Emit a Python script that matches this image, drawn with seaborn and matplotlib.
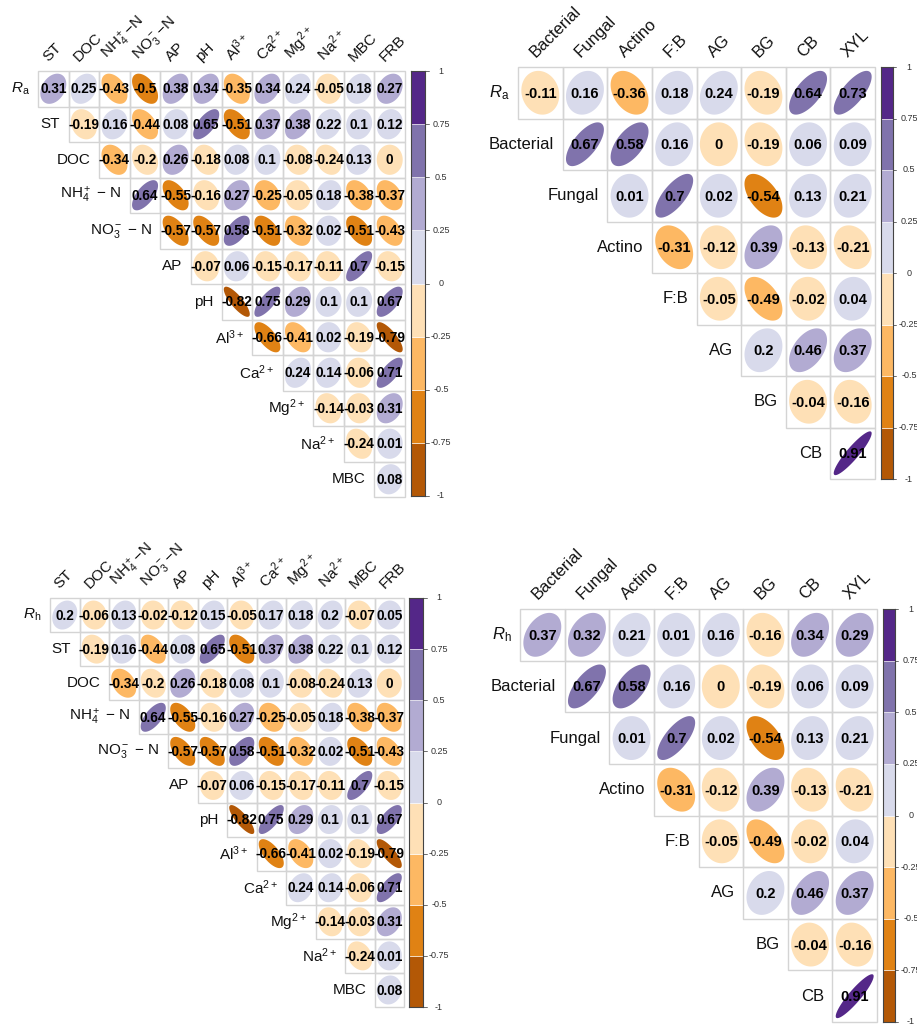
import matplotlib
matplotlib.use("Agg")
import matplotlib.pyplot as plt
from matplotlib.colors import ListedColormap
from matplotlib.patches import Rectangle
import seaborn as sns
import numpy as np

# ---- data -------------------------------------------------------------
soil_cols = ["ST", "DOC", r"NH$_4^+$$-$N", r"NO$_3^-$$-$N", "AP", "pH",
             r"Al$^{3+}$", r"Ca$^{2+}$", r"Mg$^{2+}$", r"Na$^{2+}$", "MBC", "FRB"]
soil_rows = ["ST", "DOC", r"NH$_4^+$ $-$ N", r"NO$_3^-$ $-$ N", "AP", "pH",
             r"Al$^{3+}$", r"Ca$^{2+}$", r"Mg$^{2+}$", r"Na$^{2+}$", "MBC"]

enz_cols = ["Bacterial", "Fungal", "Actino", "F:B", "AG", "BG", "CB", "XYL"]
enz_rows = ["Bacterial", "Fungal", "Actino", "F:B", "AG", "BG", "CB"]

ra_soil = [0.31, 0.25, -0.43, -0.5, 0.38, 0.34, -0.35, 0.34, 0.24, -0.05, 0.18, 0.27]
rh_soil = [0.2, -0.06, 0.13, -0.02, -0.12, 0.15, -0.05, 0.17, 0.18, 0.2, -0.07, 0.05]

# upper triangle of the soil correlation matrix (row by row)
soil_upper = [
    [-0.19, 0.16, -0.44, 0.08, 0.65, -0.51, 0.37, 0.38, 0.22, 0.1, 0.12],
    [-0.34, -0.2, 0.26, -0.18, 0.08, 0.1, -0.08, -0.24, 0.13, 0],
    [0.64, -0.55, -0.16, 0.27, -0.25, -0.05, 0.18, -0.38, -0.37],
    [-0.57, -0.57, 0.58, -0.51, -0.32, 0.02, -0.51, -0.43],
    [-0.07, 0.06, -0.15, -0.17, -0.11, 0.7, -0.15],
    [-0.82, 0.75, 0.29, 0.1, 0.1, 0.67],
    [-0.66, -0.41, 0.02, -0.19, -0.79],
    [0.24, 0.14, -0.06, 0.71],
    [-0.14, -0.03, 0.31],
    [-0.24, 0.01],
    [0.08],
]

ra_enz = [-0.11, 0.16, -0.36, 0.18, 0.24, -0.19, 0.64, 0.73]
rh_enz = [0.37, 0.32, 0.21, 0.01, 0.16, -0.16, 0.34, 0.29]

enz_upper = [
    [0.67, 0.58, 0.16, 0, -0.19, 0.06, 0.09],
    [0.01, 0.7, 0.02, -0.54, 0.13, 0.21],
    [-0.31, -0.12, 0.39, -0.13, -0.21],
    [-0.05, -0.49, -0.02, 0.04],
    [0.2, 0.46, 0.37],
    [-0.04, -0.16],
    [0.91],
]

cbar_bounds = [-1, -0.75, -0.5, -0.25, 0, 0.25, 0.5, 0.75, 1]
palette = ["#b35806", "#e08214", "#fdb863", "#fee0b6",
           "#d8daeb", "#b2abd2", "#8073ac", "#542788"]

# ---- style ------------------------------------------------------------
sns.set_theme(style="white")
plt.rcParams["font.family"] = ["Liberation Sans", "DejaVu Sans"]
plt.rcParams["mathtext.fontset"] = "custom"
plt.rcParams["mathtext.rm"] = "Liberation Sans"
plt.rcParams["mathtext.it"] = "Liberation Sans:italic"
plt.rcParams["mathtext.bf"] = "Liberation Sans:bold"

W, H = 917, 1024


def box(x0, y0, x1, y1):
    return [x0 / W, 1 - y1 / H, (x1 - x0) / W, (y1 - y0) / H]


def bin_color(r):
    idx = int(np.ceil(round((r + 1) / 0.25, 9))) - 1
    return palette[min(max(idx, 0), 7)]


def build_matrix(first_row, upper):
    n = len(first_row)
    mat = np.full((n, n), np.nan)
    mat[0, :] = first_row
    for i, vals in enumerate(upper, start=1):
        mat[i, i:] = vals
    return mat


def draw_panel(fig, grid_box, cbar_box, mat, row_labels, col_labels,
               num_size, lab_size):
    ax = fig.add_axes(box(*grid_box))
    n = mat.shape[0]
    mask = np.isnan(mat)
    sns.heatmap(np.zeros_like(mat), mask=mask, cmap=ListedColormap(["white"]),
                cbar=False, linewidths=0, xticklabels=False, yticklabels=False,
                ax=ax)
    ax.axis("off")

    k = np.linspace(0, 2 * np.pi, 120)
    for i in range(n):
        for j in range(i, n):
            r = mat[i, j]
            ax.add_patch(Rectangle((j, i), 1, 1, facecolor="none",
                                   edgecolor="#d4d4d4", lw=1, zorder=2,
                                   clip_on=False))
            d = np.arccos(r) / 2
            ex = 0.85 * np.cos(k + d) / 2
            ey = 0.85 * np.cos(k - d) / 2
            ax.fill(j + 0.5 + ex, i + 0.5 - ey, color=bin_color(r), lw=0, zorder=3)
            ax.text(j + 0.5, i + 0.52, f"{r:g}", ha="center", va="center",
                    fontsize=num_size, fontweight="bold", color="black", zorder=4)

    for i, lab in enumerate(row_labels):
        ax.annotate(lab, xy=(i, i + 0.5), xytext=(-6, 0), textcoords="offset points",
                    ha="right", va="center", fontsize=lab_size, color="#111111",
                    annotation_clip=False)
    for j, lab in enumerate(col_labels):
        ax.annotate(lab, xy=(j + 0.5, 0), xytext=(-2, 5), textcoords="offset points",
                    ha="left", va="bottom", rotation=45, rotation_mode="anchor",
                    fontsize=lab_size, color="#111111", annotation_clip=False)

    cax = fig.add_axes(box(*cbar_box))
    cax.bar(0.5, np.diff(cbar_bounds), bottom=cbar_bounds[:-1], width=1,
            color=palette, edgecolor="white", linewidth=0.4)
    cax.set_xlim(0, 1)
    cax.set_ylim(-1, 1)
    cax.set_xticks([])
    cax.set_yticks([])
    for s in cax.spines.values():
        s.set_color("#444444")
        s.set_linewidth(0.8)
    for b in cbar_bounds:
        cax.plot([1, 1.25], [b, b], color="#555555", lw=0.6, clip_on=False)
        cax.annotate(f"{b:g}", xy=(1, b), xycoords=("axes fraction", "data"),
                     xytext=(11.5, 0), textcoords="offset points", ha="center",
                     va="center", fontsize=6.5, color="#333333",
                     annotation_clip=False)
    return ax


fig = plt.figure(figsize=(W / 100, H / 100), dpi=100)

ra_label = r"$R_{\mathrm{a}}$"
rh_label = r"$R_{\mathrm{h}}$"

draw_panel(fig, (38, 71, 405, 497), (411, 71, 425, 496),
           build_matrix(ra_soil, soil_upper), [ra_label] + soil_rows, soil_cols,
           9.8, 11)
draw_panel(fig, (518, 67, 875, 479), (881, 67, 893, 479),
           build_matrix(ra_enz, enz_upper), [ra_label] + enz_rows, enz_cols,
           10.5, 12)
draw_panel(fig, (50, 598, 404, 1007), (409, 598, 423, 1007),
           build_matrix(rh_soil, soil_upper), [rh_label] + soil_rows, soil_cols,
           9.8, 11)
draw_panel(fig, (520, 609, 877, 1022), (883, 609, 895, 1022),
           build_matrix(rh_enz, enz_upper), [rh_label] + enz_rows, enz_cols,
           10.5, 12)

fig.savefig("out.png", dpi=100)
